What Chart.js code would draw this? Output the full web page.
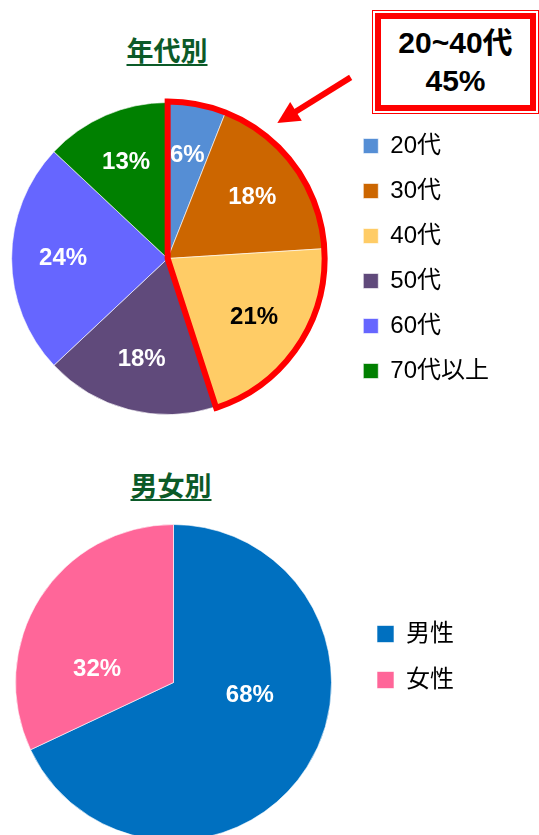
<!DOCTYPE html>
<html><head><meta charset="utf-8">
<script src="https://cdn.jsdelivr.net/npm/chart.js@4.4.0/dist/chart.umd.min.js"></script>
<style>
html,body{margin:0;padding:0;width:539px;height:835px;overflow:hidden;background:#fff;}
.title{position:absolute;font-family:'Noto Sans CJK JP',sans-serif;font-weight:bold;font-size:27px;color:#0b5a28;
 text-decoration:underline;text-decoration-thickness:2px;text-underline-offset:3px;line-height:1;transform:translateX(-50%);white-space:nowrap;}
.wrap{position:absolute;}
.callout{position:absolute;left:372px;top:10px;width:167px;height:104px;box-sizing:border-box;border:1.5px solid #ff0000;padding:2px;background:#fff;}
.callout .in{box-sizing:border-box;width:100%;height:100%;border:6px solid #ff0000;background:#fff;display:flex;flex-direction:column;justify-content:center;align-items:center;
 font-family:'Liberation Sans','Noto Sans CJK JP',sans-serif;font-weight:bold;font-size:30px;line-height:38px;color:#000;}
</style></head>
<body>
<div class="title" style="left:167px;top:36px;">年代別</div>
<div class="wrap" style="left:-7px;top:62px;width:546px;height:365px;"><canvas id="c1"></canvas></div>
<div class="callout"><div class="in"><div>20~40代</div><div>45%</div></div></div>
<div class="title" style="left:171px;top:471px;">男女別</div>
<div class="wrap" style="left:-8px;top:514px;width:547px;height:330px;"><canvas id="c2"></canvas></div>
<script>
// ---- data ----
const ageLabels = ['20代', '30代', '40代', '50代', '60代', '70代以上'];
const ageValues = [6, 18, 21, 18, 24, 13];
const ageColors = ['#558ed5', '#cc6600', '#ffcc66', '#604a7b', '#6666ff', '#008000'];
const ageLabelColors = ['#ffffff', '#ffffff', '#000000', '#ffffff', '#ffffff', '#ffffff'];
const highlightGroup = [0, 2]; // 20代〜40代

const genderLabels = ['男性', '女性'];
const genderValues = [68, 32];
const genderColors = ['#0070c0', '#ff6699'];
const genderLabelColors = ['#ffffff', '#ffffff'];

const FONT = "'Liberation Sans', 'Noto Sans CJK JP', sans-serif";

const sliceLabels = {
  id: 'sliceLabels',
  afterDatasetsDraw(chart, args, opts) {
    const ctx = chart.ctx;
    const meta = chart.getDatasetMeta(0);
    const data = chart.data.datasets[0].data;
    const total = data.reduce((a, b) => a + b, 0);
    ctx.save();
    ctx.font = 'bold 24px ' + FONT;
    ctx.textAlign = 'center';
    ctx.textBaseline = 'middle';
    meta.data.forEach((arc, i) => {
      const p = arc.getProps(['x', 'y', 'startAngle', 'endAngle', 'outerRadius'], true);
      const mid = (p.startAngle + p.endAngle) / 2 + (opts.angleOffset || 0) * Math.PI / 180;
      const r = p.outerRadius * opts.ratio;
      ctx.fillStyle = opts.colors[i];
      ctx.fillText(Math.round(data[i] / total * 100) + '%', p.x + Math.cos(mid) * r, p.y + Math.sin(mid) * r);
    });
    ctx.restore();
  }
};

const groupHighlight = {
  id: 'groupHighlight',
  afterDatasetsDraw(chart, args, opts) {
    if (!opts.enabled) return;
    const ctx = chart.ctx;
    const meta = chart.getDatasetMeta(0);
    const a = meta.data[opts.group[0]].getProps(['x', 'y', 'startAngle', 'outerRadius'], true);
    const b = meta.data[opts.group[1]].getProps(['endAngle'], true);
    const R = a.outerRadius + 1;
    ctx.save();
    ctx.strokeStyle = '#ff0000';
    ctx.lineWidth = 6;
    ctx.lineJoin = 'miter';
    ctx.beginPath();
    ctx.moveTo(a.x, a.y);
    ctx.arc(a.x, a.y, R, a.startAngle, b.endAngle);
    ctx.closePath();
    ctx.stroke();
    // arrow pointing at the group
    const tipA = (-90 + 39) * Math.PI / 180, tailA = (-90 + 45.3) * Math.PI / 180;
    const tip = [a.x + Math.cos(tipA) * R * 1.11, a.y + Math.sin(tipA) * R * 1.11];
    const tail = [a.x + Math.cos(tailA) * R * 1.64, a.y + Math.sin(tailA) * R * 1.64];
    const dx = tip[0] - tail[0], dy = tip[1] - tail[1];
    const len = Math.hypot(dx, dy), ux = dx / len, uy = dy / len;
    const headL = 22, headW = 11;
    const base = [tip[0] - ux * headL, tip[1] - uy * headL];
    ctx.lineCap = 'butt';
    ctx.beginPath();
    ctx.moveTo(tail[0], tail[1]);
    ctx.lineTo(base[0] + ux * 2, base[1] + uy * 2);
    ctx.stroke();
    ctx.fillStyle = '#ff0000';
    ctx.beginPath();
    ctx.moveTo(tip[0], tip[1]);
    ctx.lineTo(base[0] - uy * headW, base[1] + ux * headW);
    ctx.lineTo(base[0] + uy * headW, base[1] - ux * headW);
    ctx.closePath();
    ctx.fill();
    ctx.restore();
  }
};

function pieOptions(pad, legend, labelOpts, highlight) {
  return {
    responsive: true, maintainAspectRatio: false, animation: false,
    layout: { padding: pad },
    plugins: {
      legend: legend,
      tooltip: { enabled: false },
      sliceLabels: labelOpts,
      groupHighlight: highlight
    }
  };
}

new Chart(document.getElementById('c1'), {
  type: 'pie',
  data: { labels: ageLabels, datasets: [{ data: ageValues, backgroundColor: ageColors, borderColor: 'rgba(255,255,255,0.6)', borderWidth: 1 }] },
  options: pieOptions(
    { top: 40, bottom: 12, left: 0, right: 40 },
    { position: 'right', align: 'center',
      labels: { font: { size: 24, family: FONT }, color: '#000', boxWidth: 15, boxHeight: 15, padding: 21 } },
    { ratio: 0.67, angleOffset: 0, colors: ageLabelColors },
    { enabled: true, group: highlightGroup }
  ),
  plugins: [sliceLabels, groupHighlight]
});

new Chart(document.getElementById('c2'), {
  type: 'pie',
  data: { labels: genderLabels, datasets: [{ data: genderValues, backgroundColor: genderColors, borderColor: 'rgba(255,255,255,0.6)', borderWidth: 1 }] },
  options: pieOptions(
    { top: 10, bottom: 3, left: 0, right: 75 },
    { position: 'right', align: 'start',
      title: { display: true, text: '', font: { size: 10 }, padding: { top: 64, bottom: 0 } },
      labels: { font: { size: 24, family: FONT }, color: '#000', boxWidth: 17, boxHeight: 17, padding: 22 } },
    { ratio: 0.49, angleOffset: -23, colors: genderLabelColors },
    { enabled: false }
  ),
  plugins: [sliceLabels, groupHighlight]
});
</script>
</body></html>
